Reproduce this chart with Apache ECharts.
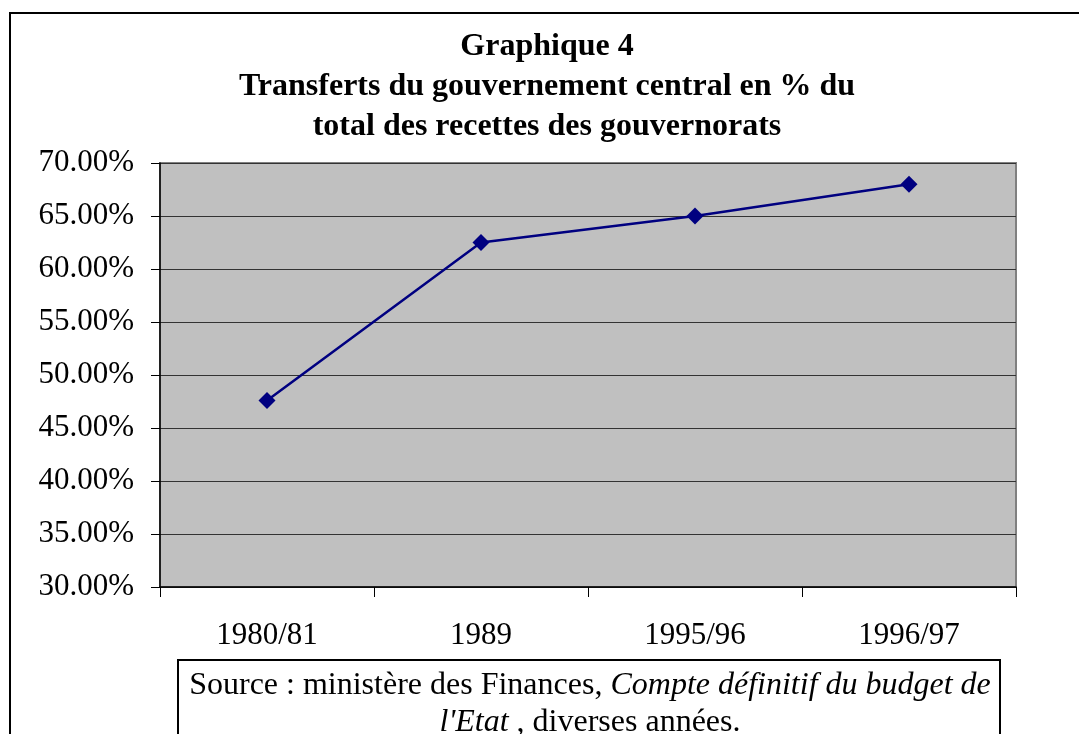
<!DOCTYPE html>
<html>
<head>
<meta charset="utf-8">
<script src="https://cdn.jsdelivr.net/npm/echarts@6/dist/echarts.min.js"></script>
<style>
  html, body { margin: 0; padding: 0; background: #fff; }
  #chart { width: 1079px; height: 734px; }
</style>
</head>
<body>
<div id="chart"></div>
<script>
// données
const categories = ['1980/81', '1989', '1995/96', '1996/97'];
const transferts = [47.6, 62.5, 65.0, 68.0];
const titleLines = ['Graphique 4', 'Transferts du gouvernement central en % du', 'total des recettes des gouvernorats'];

const serif = '"Liberation Serif", "DejaVu Serif", serif';

const chart = echarts.init(document.getElementById('chart'));

chart.setOption({
    backgroundColor: '#fff',
    animation: false,
    title: {
        text: titleLines.join('\n'),
        left: 542,
        top: 22,
        textAlign: 'center',
        textStyle: {
            fontFamily: serif,
            fontWeight: 'bold',
            fontSize: 32,
            lineHeight: 40,
            color: '#000'
        }
    },
    grid: {
        left: 160,
        right: 63,
        top: 163,
        bottom: 147,
        show: true,
        backgroundColor: '#c0c0c0',
        borderColor: '#808080',
        borderWidth: 2
    },
    xAxis: {
        type: 'category',
        data: categories,
        boundaryGap: true,
        axisLine: { lineStyle: { color: '#000', width: 1.5 } },
        axisTick: { show: true, length: 10, lineStyle: { color: '#000' } },
        axisLabel: {
            margin: 33,
            fontFamily: serif,
            fontSize: 31,
            color: '#000'
        },
        splitLine: { show: false }
    },
    yAxis: {
        type: 'value',
        min: 30,
        max: 70,
        interval: 5,
        axisLine: { show: true, lineStyle: { color: '#000', width: 1.5 } },
        axisTick: { show: true, length: 9, lineStyle: { color: '#000' } },
        axisLabel: {
            margin: 26,
            fontFamily: serif,
            fontSize: 31,
            color: '#000',
            formatter: v => v.toFixed(2) + '%'
        },
        splitLine: { show: true, lineStyle: { color: '#333', width: 1 } }
    },
    series: [{
        type: 'line',
        data: transferts,
        symbol: 'diamond',
        symbolSize: 17,
        lineStyle: { color: '#000080', width: 2.5 },
        itemStyle: { color: '#000080' }
    }],
    graphic: [
        // cadre extérieur
        {
            type: 'rect',
            shape: { x: 10, y: 13, width: 1200, height: 800 },
            style: { fill: null, stroke: '#000', lineWidth: 2 },
            silent: true
        },
        // encadré source
        {
            type: 'rect',
            shape: { x: 178, y: 660, width: 822, height: 120 },
            style: { fill: '#fff', stroke: '#000', lineWidth: 2 },
            silent: true
        },
        {
            type: 'text',
            style: {
                x: 590,
                y: 667,
                text: 'Source : ministère des Finances, {i|Compte définitif du budget de}\n{i|l\'Etat} , diverses années.',
                align: 'center',
                verticalAlign: 'top',
                font: '32px ' + serif,
                fill: '#000',
                lineHeight: 37,
                rich: {
                    i: { fontStyle: 'italic', fontFamily: serif, fontSize: 32, lineHeight: 37 }
                }
            },
            silent: true
        }
    ]
});
</script>
</body>
</html>
